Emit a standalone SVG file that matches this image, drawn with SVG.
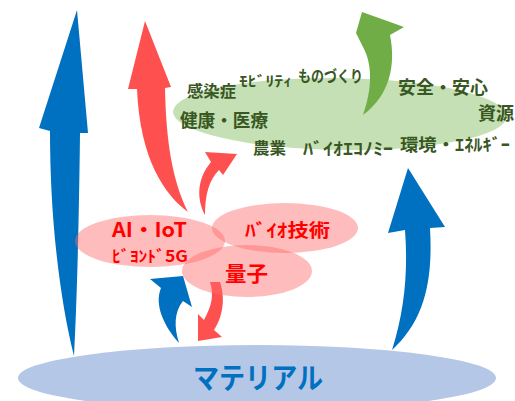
<svg xmlns="http://www.w3.org/2000/svg" width="515" height="401" viewBox="0 0 515 401">
<style>
.jp{font-family:"Noto Sans CJK JP","Noto Sans",sans-serif;font-weight:bold}
.g{fill:#385723}
.r{fill:#FF0000}
.pink{fill:#FF6B6B;fill-opacity:0.45}
.ab{fill:#0070C0}
.ar{fill:#FF5050}
.ag{fill:#70AD47}
</style>
<rect width="515" height="401" fill="#FFFFFF"/>
<g id="material">
<ellipse cx="257" cy="378" rx="239" ry="33" fill="#B4C7E7"/>
<text class="jp" x="193" y="389" font-size="29" textLength="130" lengthAdjust="spacingAndGlyphs" fill="#0070C0">マテリアル</text>
</g>
<g id="applications">
<ellipse cx="340" cy="114" rx="167" ry="36" fill="#C5E0B4" transform="rotate(0.8 340 114)"/>
</g>
<g id="connectors">
<path class="ab" d="M77,10 L88,133 L80,133 C79,220 77,300 74,356 C60,300 50,220 50,131 L39,128 Z"/>
<path class="ar" d="M145,21 L171,87 L165,88 C166,140 172,180 188,212 C165,195 140,160 137,89 L128,89 Z"/>
<path class="ar" d="M237,154 L223,175 L219,170 C209,180 205,195 205,215 C197,200 196,180 211,162 L205,152 Z"/>
<path class="ag" d="M362,12 L404,27 L390,35 C396,65 390,95 363,115 C372,90 373,65 363,47 L356,33 Z"/>
<path class="ab" d="M408,168 L445,227 L430,228 C433,280 425,320 392,350 C405,310 408,270 405,230 L388,233 Z"/>
<path class="ab" d="M183,276 L192,307 L183,301 C174,312 174,327 179,343 C164,326 154,305 161,288 L150,279 Z"/>
<path class="ar" d="M198,341 L198,314 L204,320 C212,305 214,295 210,282 L220,282 C226,300 222,318 214,330 L222,337 Z"/>
</g>
<g id="ai-iot">
<ellipse class="pink" cx="150" cy="241" rx="75" ry="26"/>
</g>
<g id="bio">
<ellipse class="pink" cx="285" cy="228" rx="73" ry="25"/>
</g>
<g id="quantum">
<ellipse class="pink" cx="247" cy="271" rx="65" ry="26"/>
</g>
<g id="labels">
<text class="jp r" x="112" y="237" font-size="20" textLength="75" lengthAdjust="spacingAndGlyphs">AI・IoT</text>
<text class="jp r" x="112" y="262" font-size="16" textLength="76" lengthAdjust="spacingAndGlyphs">ﾋﾞﾖﾝﾄﾞ5G</text>
<text class="jp r" x="245" y="237" font-size="18" textLength="85" lengthAdjust="spacingAndGlyphs">ﾊﾞｲｵ技術</text>
<text class="jp r" x="225" y="281" font-size="21" textLength="43" lengthAdjust="spacingAndGlyphs">量子</text>
<text class="jp g" x="187" y="97" font-size="16" textLength="49" lengthAdjust="spacingAndGlyphs">感染症</text>
<text class="jp g" x="239" y="86" font-size="14" textLength="53" lengthAdjust="spacingAndGlyphs">ﾓﾋﾞﾘﾃｨ</text>
<text class="jp g" x="298" y="82" font-size="16" textLength="65" lengthAdjust="spacingAndGlyphs">ものづくり</text>
<text class="jp g" x="180" y="127" font-size="18" textLength="88" lengthAdjust="spacingAndGlyphs">健康・医療</text>
<text class="jp g" x="398" y="94" font-size="18" textLength="90" lengthAdjust="spacingAndGlyphs">安全・安心</text>
<text class="jp g" x="478" y="120" font-size="18" textLength="36" lengthAdjust="spacingAndGlyphs">資源</text>
<text class="jp g" x="253" y="154" font-size="16" textLength="33" lengthAdjust="spacingAndGlyphs">農業</text>
<text class="jp g" x="303" y="155" font-size="17" textLength="90" lengthAdjust="spacingAndGlyphs">ﾊﾞｲｵｴｺﾉﾐｰ</text>
<text class="jp g" x="400" y="151" font-size="17" textLength="110" lengthAdjust="spacingAndGlyphs">環境・ｴﾈﾙｷﾞｰ</text>
</g>
</svg>
